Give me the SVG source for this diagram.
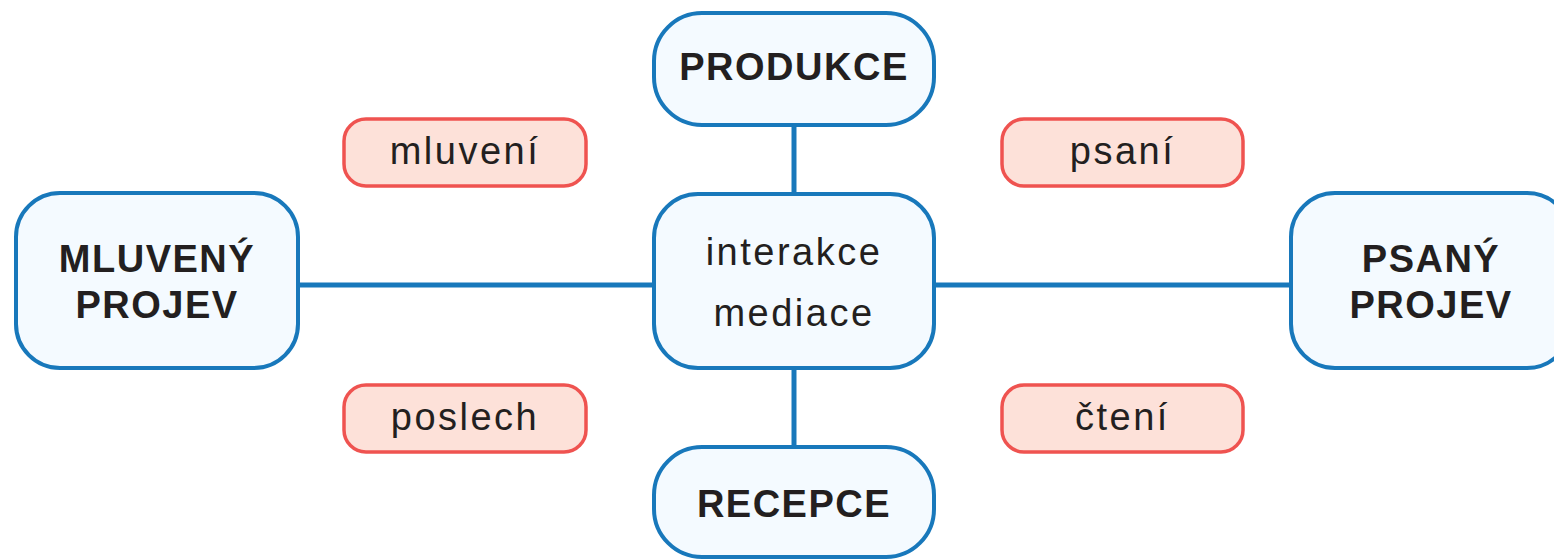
<svg xmlns="http://www.w3.org/2000/svg" width="1554" height="559" viewBox="0 0 1554 559">
<style>
.node{fill:#f4faff;stroke:#1878bb;stroke-width:4}
.pill{fill:#fde1d9;stroke:#ef5350;stroke-width:3.5}
.conn{stroke:#1878bb;stroke-width:5;fill:none}
.b{font-family:"Liberation Sans",Arial,sans-serif;font-weight:bold;font-size:38px;fill:#231f20;text-anchor:middle;letter-spacing:1.5px}
.r{font-family:"Liberation Sans",Arial,sans-serif;font-size:38px;fill:#231f20;text-anchor:middle;letter-spacing:2.5px}
</style>
<rect width="1554" height="559" fill="#ffffff"/>
<g id="connectors">
<line class="conn" x1="794" y1="125" x2="794" y2="194"/>
<line class="conn" x1="794" y1="368" x2="794" y2="447"/>
<line class="conn" x1="298" y1="285" x2="654" y2="285"/>
<line class="conn" x1="934" y1="285" x2="1291" y2="285"/>
</g>
<g id="produkce">
<rect class="node" x="654" y="13" width="280" height="112" rx="48"/>
<text class="b" x="794" y="80">PRODUKCE</text>
</g>
<g id="mluveny">
<rect class="node" x="16" y="193" width="282" height="175" rx="44"/>
<text class="b" x="157" y="272">MLUVENÝ</text>
<text class="b" x="157" y="318">PROJEV</text>
</g>
<g id="center">
<rect class="node" x="654" y="194" width="280" height="174" rx="44"/>
<text class="r" x="794" y="265">interakce</text>
<text class="r" x="794" y="326">mediace</text>
</g>
<g id="psany">
<rect class="node" x="1291" y="193" width="280" height="175" rx="44"/>
<text class="b" x="1431" y="272">PSANÝ</text>
<text class="b" x="1431" y="318">PROJEV</text>
</g>
<g id="recepce">
<rect class="node" x="654" y="447" width="280" height="110" rx="48"/>
<text class="b" x="794" y="517">RECEPCE</text>
</g>
<g id="mluveni">
<rect class="pill" x="344" y="119" width="242" height="67" rx="22"/>
<text class="r" x="465" y="164">mluvení</text>
</g>
<g id="psani">
<rect class="pill" x="1002" y="119" width="241" height="67" rx="22"/>
<text class="r" x="1122.5" y="164">psaní</text>
</g>
<g id="poslech">
<rect class="pill" x="344" y="385" width="242" height="67" rx="22"/>
<text class="r" x="465" y="430">poslech</text>
</g>
<g id="cteni">
<rect class="pill" x="1002" y="385" width="241" height="67" rx="22"/>
<text class="r" x="1122.5" y="430">čtení</text>
</g>
</svg>
